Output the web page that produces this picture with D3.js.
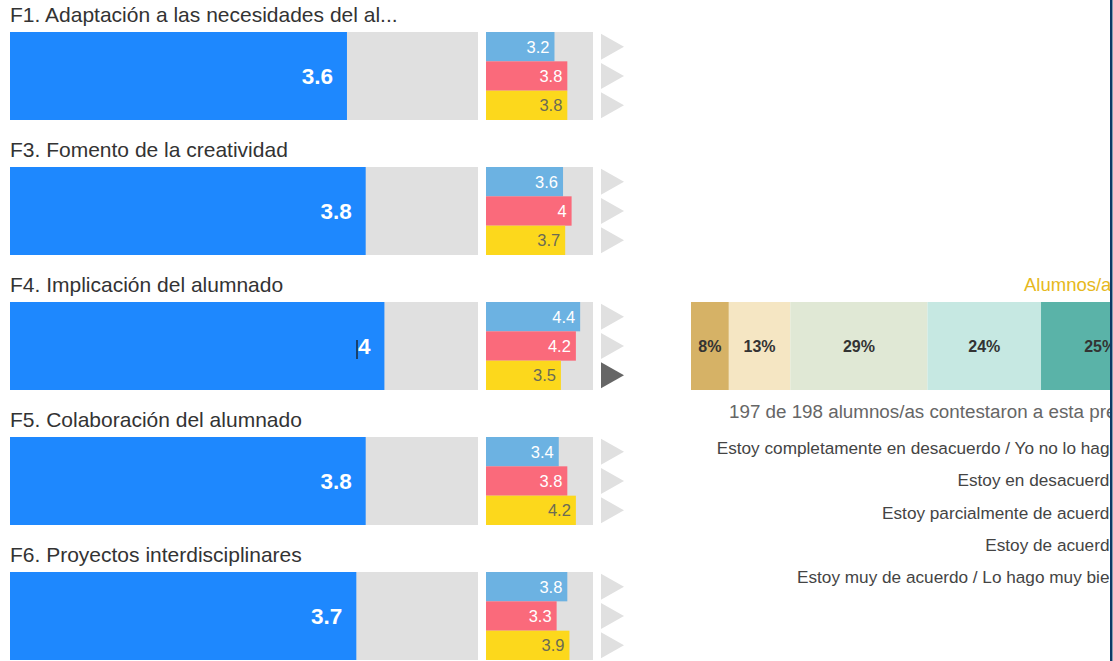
<!DOCTYPE html>
<html>
<head>
<meta charset="utf-8">
<script src="https://cdn.jsdelivr.net/npm/d3@7"></script>
<style>
  body { margin: 0; background: #fff; }
  svg { display: block; font-family: "Liberation Sans", Arial, sans-serif; }
</style>
</head>
<body>
<svg id="chart" width="1113" height="661"></svg>
<script>
// data
const categories = [
  "F1. Adaptación a las necesidades del al...",
  "F3. Fomento de la creatividad",
  "F4. Implicación del alumnado",
  "F5. Colaboración del alumnado",
  "F6. Proyectos interdisciplinares"
];
const overall = [3.6, 3.8, 4, 3.8, 3.7];
const seriesBlue = [3.2, 3.6, 4.4, 3.4, 3.8];
const seriesRed = [3.8, 4, 4.2, 3.8, 3.3];
const seriesYellow = [3.8, 3.7, 3.5, 4.2, 3.9];
const selected = [null, null, 2, null, null]; // which arrow is active
const answerPct = [8, 13, 29, 24, 25];
const answerLabels = [
  "Estoy completamente en desacuerdo / Yo no lo hago",
  "Estoy en desacuerdo",
  "Estoy parcialmente de acuerdo",
  "Estoy de acuerdo",
  "Estoy muy de acuerdo / Lo hago muy bien"
];
const answerTitle = "Alumnos/as";
const answerNote = "197 de 198 alumnos/as contestaron a esta pregunta";

const subColors = ["#6cb2e2", "#fa6a7b", "#fcd81c"];
const subText = ["#fff", "#fff", "#6b6b55"];
const stackColors = ["#d6b266", "#f5e6c3", "#e0e8d5", "#c6e8e2", "#5ab3a8"];

const svg = d3.select("#chart");

const yGroup = d3.scaleBand().domain(d3.range(categories.length)).range([32, 32 + 135 * 5]);
const barH = 88;
const xBig = d3.scaleLinear().domain([0, 5]).range([10, 478]);
const xSmall = d3.scaleLinear().domain([0, 5]).range([486, 593]);
const ySub = d3.scaleBand().domain([0, 1, 2]).range([0, barH]);

const groups = svg.selectAll("g.grp").data(categories).join("g")
  .attr("class", "grp")
  .attr("transform", (d, i) => `translate(0,${yGroup(i)})`);

groups.append("text")
  .attr("x", 10).attr("y", -17)
  .attr("dy", "0.35em")
  .attr("font-size", 21)
  .attr("fill", "#333")
  .text(d => d);

// big bar
groups.append("rect")
  .attr("x", xBig(0)).attr("y", 0)
  .attr("width", xBig(5) - xBig(0)).attr("height", barH)
  .attr("fill", "#e0e0e0");
groups.append("rect")
  .attr("x", xBig(0)).attr("y", 0)
  .attr("width", (d, i) => xBig(overall[i]) - xBig(0)).attr("height", barH)
  .attr("fill", "#1e88fe");
groups.append("text")
  .attr("x", (d, i) => xBig(overall[i]) - 14)
  .attr("y", barH / 2).attr("dy", "0.36em")
  .attr("text-anchor", "end")
  .attr("font-size", 22.5).attr("font-weight", "bold")
  .attr("fill", "#fff")
  .text((d, i) => overall[i]);

// small bars
groups.append("rect")
  .attr("x", xSmall(0)).attr("y", 0)
  .attr("width", xSmall(5) - xSmall(0)).attr("height", barH)
  .attr("fill", "#e0e0e0");

const sub = [seriesBlue, seriesRed, seriesYellow];
groups.each(function(d, i) {
  const g = d3.select(this);
  const rows = sub.map((s, k) => ({ k, v: s[i] }));
  g.selectAll("rect.sub").data(rows).join("rect")
    .attr("class", "sub")
    .attr("x", xSmall(0))
    .attr("y", r => ySub(r.k))
    .attr("width", r => xSmall(r.v) - xSmall(0))
    .attr("height", ySub.bandwidth())
    .attr("fill", r => subColors[r.k]);
  g.selectAll("text.sub").data(rows).join("text")
    .attr("class", "sub")
    .attr("x", r => xSmall(r.v) - 5)
    .attr("y", r => ySub(r.k) + ySub.bandwidth() / 2)
    .attr("dy", "0.36em")
    .attr("text-anchor", "end")
    .attr("font-size", 16.5)
    .attr("fill", r => subText[r.k])
    .text(r => r.v);
  g.selectAll("path.arrow").data(rows).join("path")
    .attr("class", "arrow")
    .attr("d", r => {
      const cy = ySub(r.k) + ySub.bandwidth() / 2;
      return `M601,${cy - 13}L624,${cy}L601,${cy + 13}Z`;
    })
    .attr("fill", r => selected[i] === r.k ? "#666" : "#e0e0e0");
});

// text cursor artefact in F4
svg.append("line")
  .attr("x1", 357).attr("x2", 357)
  .attr("y1", yGroup(2) + 38).attr("y2", yGroup(2) + 57)
  .attr("stroke", "#1a2a3a").attr("stroke-width", 1.5);

// right panel: distribution of answers
svg.append("clipPath").attr("id", "rclip")
  .append("rect").attr("x", 660).attr("y", 0).attr("width", 450).attr("height", 661);
const right = svg.append("g").attr("clip-path", "url(#rclip)");

const xPct = d3.scaleLinear().domain([0, 100]).range([691, 1164]);
const stackTop = yGroup(2);
let acc = 0;
const segs = answerPct.map((p, k) => { const s = { k, p, x0: acc }; acc += p; return s; });

right.append("text")
  .attr("x", 1024).attr("y", stackTop - 17).attr("dy", "0.35em")
  .attr("font-size", 18.5).attr("fill", "#e6b820")
  .text(answerTitle);

right.selectAll("rect.seg").data(segs).join("rect")
  .attr("class", "seg")
  .attr("x", s => xPct(s.x0)).attr("y", stackTop)
  .attr("width", s => xPct(s.x0 + s.p) - xPct(s.x0))
  .attr("height", barH)
  .attr("fill", s => stackColors[s.k]);
right.selectAll("text.seg").data(segs).join("text")
  .attr("class", "seg")
  .attr("x", s => (xPct(s.x0) + xPct(s.x0 + s.p)) / 2)
  .attr("y", stackTop + barH / 2).attr("dy", "0.36em")
  .attr("text-anchor", "middle")
  .attr("font-size", 16).attr("font-weight", "bold")
  .attr("fill", "#333")
  .text(s => s.p + "%");

right.append("text")
  .attr("x", 729).attr("y", 411).attr("dy", "0.35em")
  .attr("font-size", 18.8).attr("fill", "#666")
  .text(answerNote);

const yLeg = d3.scalePoint().domain(d3.range(answerLabels.length)).range([448, 577]);
right.selectAll("text.leg").data(answerLabels).join("text")
  .attr("class", "leg")
  .attr("x", 1119).attr("y", (d, i) => yLeg(i)).attr("dy", "0.35em")
  .attr("text-anchor", "end")
  .attr("font-size", 17.2).attr("fill", "#444")
  .text(d => d);

// right edge bar
svg.append("rect")
  .attr("x", 1110).attr("y", 0).attr("width", 2.5).attr("height", 661)
  .attr("fill", "#0f3a66");
</script>
</body>
</html>
